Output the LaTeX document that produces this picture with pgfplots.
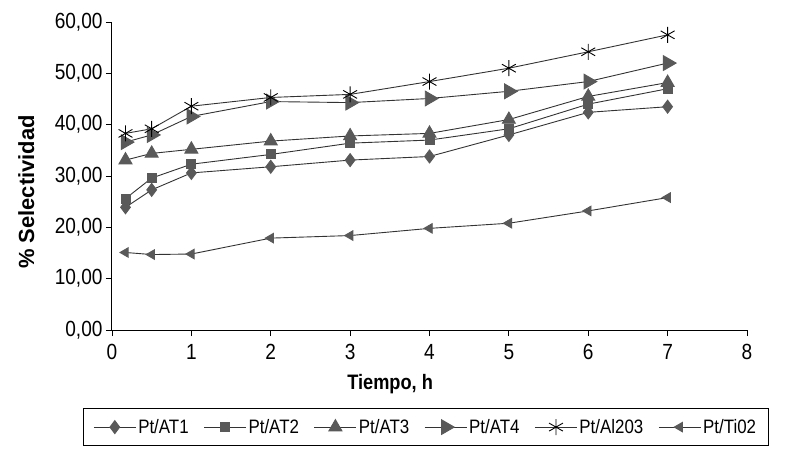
\documentclass[border=0pt]{standalone}
\usepackage{fontspec}
\setmainfont{Liberation Sans}[FakeStretch=0.87]
\newfontfamily\ylabfont{Liberation Sans}
\usepackage{pgfplots}
\pgfplotsset{compat=1.18}

\definecolor{linegray}{gray}{0.2}
\definecolor{markgray}{gray}{0.35}

\begin{document}
\begin{tikzpicture}
\begin{axis}[
    scale only axis,
    width=635bp, height=308bp,
    xmin=0, xmax=8, ymin=0, ymax=60,
    clip=false,
    axis x line=bottom, axis y line=left,
    axis line style={-, black, line width=1bp},
    xtick={0,1,...,8}, ytick={0,10,...,60},
    tick align=outside, major tick length=6bp,
    tick style={black, line width=0.8bp},
    /pgf/number format/assume math mode=true,
    yticklabel style={/pgf/number format/.cd, fixed, fixed zerofill, precision=2, use comma},
    xticklabel style={yshift=-5bp},
    tick label style={font=\fontsize{22}{24}\selectfont},
    xlabel={Tiempo, h},
    ylabel={\% Selectividad},
    xlabel style={at={(axis description cs:0.438,-0.175)}, anchor=center, font=\bfseries\fontsize{21}{24}\selectfont},
    ylabel style={at={(axis description cs:-0.135,0.448)}, anchor=center, font=\ylabfont\bfseries\fontsize{22}{24}\selectfont},
    legend style={
        at={(-0.0457,-0.253)}, anchor=north west,
        draw=black, line width=0.8bp,
        inner xsep=10bp, inner ysep=9bp,
        legend columns=6,
        font=\fontsize{19.5}{21}\selectfont,
        /tikz/every even column/.append style={column sep=13bp}
    },
    legend image code/.code={\draw[mark repeat=2,mark phase=2] plot coordinates {(0bp,0bp) (21bp,0bp) (42bp,0bp)};},
    every axis plot/.append style={line width=0.9bp, draw=linegray},
]
% Pt/AT1
\addplot[linegray, mark=diamond*, mark size=6.5bp, mark options={fill=markgray, draw=markgray}] coordinates {
    (0.17,23.9) (0.5,27.3) (1,30.6) (2,31.8) (3,33.1) (4,33.8) (5,38.0) (6,42.4) (7,43.5)
};
% Pt/AT2
\addplot[linegray, mark=square*, mark size=4.5bp, mark options={fill=markgray, draw=markgray}] coordinates {
    (0.17,25.6) (0.5,29.6) (1,32.3) (2,34.2) (3,36.4) (4,37.0) (5,39.2) (6,44.0) (7,47.0)
};
% Pt/AT3
\addplot[linegray, mark=triangle*, mark size=7.5bp, mark options={fill=markgray, draw=markgray}] coordinates {
    (0.17,33.1) (0.5,34.4) (1,35.2) (2,36.8) (3,37.8) (4,38.3) (5,41.0) (6,45.5) (7,48.2)
};
% Pt/AT4
\addplot[linegray, mark=triangle*, mark size=8.5bp, mark options={fill=markgray, draw=markgray, rotate=-90}] coordinates {
    (0.17,36.6) (0.5,38.0) (1,41.6) (2,44.5) (3,44.3) (4,45.1) (5,46.5) (6,48.4) (7,52.0)
};
% Pt/Al2O3
\addplot[linegray, mark=asterisk, mark size=8bp, mark options={draw=black, line width=0.9bp}] coordinates {
    (0.17,38.3) (0.5,39.2) (1,43.6) (2,45.3) (3,45.9) (4,48.4) (5,51.0) (6,54.2) (7,57.5)
};
% Pt/TiO2
\addplot[linegray, mark=triangle*, mark size=5.5bp, mark options={fill=markgray, draw=markgray, rotate=90}] coordinates {
    (0.17,15.1) (0.5,14.7) (1,14.8) (2,17.9) (3,18.4) (4,19.8) (5,20.8) (6,23.2) (7,25.8)
};
\legend{Pt/AT1, Pt/AT2, Pt/AT3, Pt/AT4, Pt/Al203, Pt/Ti02}
\end{axis}
\pgfresetboundingbox
\path (-112bp,-125bp) rectangle (680bp,330bp);
\end{tikzpicture}
\end{document}
